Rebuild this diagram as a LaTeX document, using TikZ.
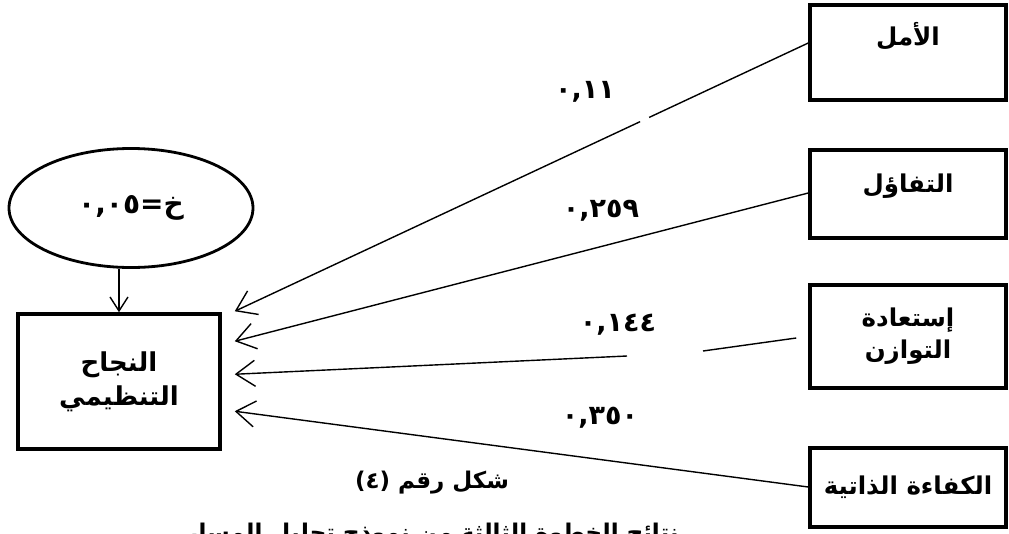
\documentclass[tikz,border=0pt]{standalone}
\usepackage{fontspec}
\TeXXeTstate=1
\newfontfamily\arabicfont[Script=Arabic]{DejaVu Sans}
\usetikzlibrary{arrows.meta,shapes.geometric,calc}
\tikzset{
  box/.style={draw, line width=3.5pt, rectangle, minimum width=196pt, inner sep=4pt,
    font=\arabicfont\bfseries\fontsize{24.5}{32}\selectfont, align=center},
  conn/.style={line width=1.4pt, -{Straight Barb[length=19pt,width=26pt,line width=1.4pt]}},
  lbl/.style={font=\arabicfont\bfseries\fontsize{27}{30}\selectfont, inner sep=0pt},
  capt/.style={font=\arabicfont\bfseries\fontsize{23}{28}\selectfont, inner sep=0pt}
}
\begin{document}
\begin{tikzpicture}[x=1pt,y=-1pt]
\useasboundingbox (0,0) rectangle (1009,533);
% left
\node[draw, ellipse, line width=2.8pt, minimum width=244pt, minimum height=119pt,
  font=\arabicfont\bfseries\fontsize{28}{32}\selectfont] (ell) at (131,208) {\beginR خ=\beginL٠,٠٥\endL\endR};
\node[box, minimum width=202pt, minimum height=135pt, font=\arabicfont\bfseries\fontsize{26}{34}\selectfont] (naj) at (119,381.5) {\beginR النجاح\endR\\\beginR التنظيمي\endR};
\draw[line width=1.4pt, -{Straight Barb[length=14pt,width=18pt,line width=1.4pt]}] (naj.north |- ell.south) -- (naj.north);
% right
\node[box, minimum height=95pt, text height=36pt, text depth=51pt] (amal) at (908,52.5) {\beginR الأمل\endR};
\node[box, minimum height=88pt, text height=38pt, text depth=42pt] (taf) at (908,194) {\beginR التفاؤل\endR};
\node[box, minimum height=103pt] (ist) at (908,336.5) {\beginR إستعادة\endR\\\beginR التوازن\endR};
\node[box, minimum height=79pt] (kaf) at (908,487.5) {\beginR الكفاءة الذاتية\endR};
% end points
\coordinate (t1) at ($(naj.north east)+(13,-1)$);
\coordinate (t2) at ($(naj.north east)+(13,29)$);
\coordinate (t3) at ($(naj.north east)+(13,62)$);
\coordinate (t4) at ($(naj.north east)+(13,99)$);
\coordinate (s1) at ($(amal.west)+(0,-9.5)$);
\coordinate (s2) at ($(taf.west)+(0,-1)$);
\coordinate (s3a) at ($(ist.west)+(-12,1.5)$);
\coordinate (s3b) at (703,351);
\coordinate (s3c) at (627,356);
\coordinate (s4) at ($(kaf.west)+(0,-0.5)$);
\draw[conn, dash pattern=on 175.6pt off 10pt on 1000pt] (s1) -- (t1);
\draw[conn] (s2) -- (t2);
\draw[line width=1.4pt] (s3a) -- (s3b);
\draw[conn] (s3c) -- (t3);
\draw[conn] (s4) -- (t4);
% labels
\node[lbl] (l1) at (585,92) {٠,١١};
\node[lbl] (l2) at (601,211) {٠,٢٥٩};
\node[lbl] (l3) at (618,325) {٠,١٤٤};
\node[lbl] (l4) at (600,418) {٠,٣٥٠};
% caption
\node[capt] (c1) at (432,483) {\beginR شكل رقم (٤)\endR};
\node[capt, anchor=base] (c2) at (432,540) {\beginR نتائج الخطوة الثالثة من نموذج تحليل المسار\endR};
\end{tikzpicture}
\end{document}
